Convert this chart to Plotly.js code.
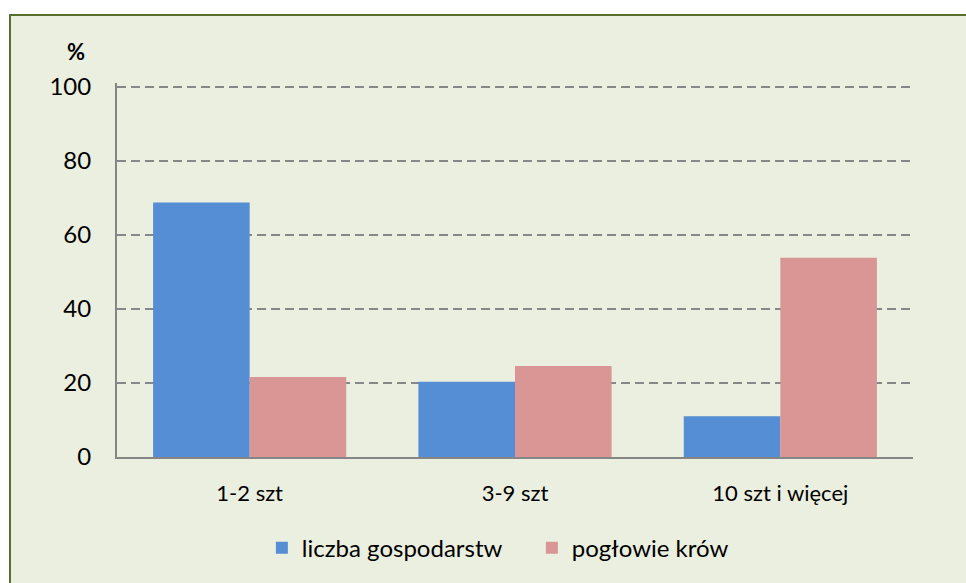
<!DOCTYPE html>
<html>
<head>
<meta charset="utf-8">
<script src="https://cdn.plot.ly/plotly-3.0.1.min.js"></script>
<style>
  html, body { margin: 0; padding: 0; background: #ffffff; }
  #frame { position: absolute; left: 9px; top: 14px; width: 980px; height: 600px;
           border: 2px solid #5A6F2E; background: #EBEFDF; box-sizing: border-box; }
  #chart { position: absolute; left: 0; top: 0; width: 966px; height: 583px; }
</style>
</head>
<body>
<div id="frame"></div>
<div id="chart"></div>
<script>
const categories = ["1-2 szt", "3-9 szt", "10 szt i więcej"];
const liczbaGospodarstw = [68.7, 20.3, 11.0];
const poglowieKrow = [21.6, 24.6, 53.8];
const yTicks = [0, 20, 40, 60, 80, 100];
const seriesNames = ["liczba gospodarstw", "pogłowie krów"];

const font = "Lato, 'Open Sans', sans-serif";

const data = [
  { type: "bar", x: categories, y: liczbaGospodarstw, name: seriesNames[0],
    marker: { color: "#558ED5" }, hoverinfo: "skip" },
  { type: "bar", x: categories, y: poglowieKrow, name: seriesNames[1],
    marker: { color: "#D99694" }, hoverinfo: "skip" }
];

const layout = {
  width: 966, height: 583,
  margin: { l: 117, r: 53, t: 83, b: 123 },
  paper_bgcolor: "rgba(0,0,0,0)",
  plot_bgcolor: "rgba(0,0,0,0)",
  font: { family: font, size: 23, color: "#000000" },
  barmode: "group",
  bargap: 0.272,
  bargroupgap: 0,
  showlegend: true,
  legend: { orientation: "h", x: 0.182, xanchor: "left", y: -0.244, yanchor: "middle",
            font: { family: font, size: 24, color: "#000" }, bgcolor: "rgba(0,0,0,0)",
            itemwidth: 30, tracegroupgap: 0, entrywidth: 225, entrywidthmode: "pixels" },
  xaxis: {
    type: "category", showgrid: false, zeroline: false,
    showline: true, linecolor: "#868686", linewidth: 2,
    ticks: "", ticklabelstandoff: 16,
    tickfont: { family: font, size: 22 }
  },
  yaxis: {
    range: [0, 101], tickvals: yTicks, ticktext: yTicks.map(String),
    showgrid: true, gridcolor: "#878787", gridwidth: 2, griddash: "9px,5px",
    zeroline: false, showline: true, linecolor: "#868686", linewidth: 2,
    ticks: "", ticklabelstandoff: 19,
    tickfont: { family: font, size: 24 }
  },
  annotations: [
    { text: "<b>%</b>", xref: "paper", yref: "paper", x: (76 - 117) / 796, y: (460 - 51) / 377,
      xanchor: "center", yanchor: "middle", showarrow: false,
      font: { family: font, size: 22, color: "#000" } }
  ]
};

Plotly.newPlot("chart", data, layout, { displayModeBar: false, staticPlot: true });
</script>
</body>
</html>
